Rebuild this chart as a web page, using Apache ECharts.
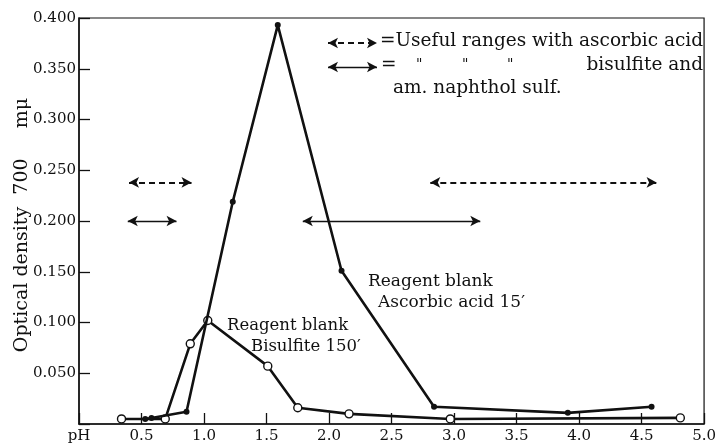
<!DOCTYPE html>
<html><head><meta charset="utf-8">
<script src="https://cdn.jsdelivr.net/npm/echarts@6/dist/echarts.min.js"></script>
<style>html,body{margin:0;padding:0;background:#fff}#c{width:719px;height:444px}</style>
</head><body><div id="c"></div>
<script>
// Reagent blank, ascorbic acid 15' (filled dots)
const ascorbicPH = [0.53, 0.58, 0.86, 1.23, 1.59, 2.10, 2.84, 3.91, 4.58];
const ascorbicOD = [0.005, 0.006, 0.012, 0.219, 0.393, 0.151, 0.017, 0.011, 0.017];
// Reagent blank, bisulfite 150' (open circles)
const bisulfitePH = [0.34, 0.69, 0.89, 1.03, 1.51, 1.75, 2.16, 2.97, 4.81];
const bisulfiteOD = [0.005, 0.005, 0.079, 0.102, 0.057, 0.016, 0.010, 0.005, 0.006];
// Useful pH ranges (arrows)
const ascorbicRanges = [[0.40, 0.90], [2.81, 4.62]];
const ascorbicRangeLevel = 0.238;
const bisulfiteRanges = [[0.39, 0.78], [1.79, 3.21]];
const bisulfiteRangeLevel = 0.200;
// Axis ticks
const xTicks = [0, 0.5, 1.0, 1.5, 2.0, 2.5, 3.0, 3.5, 4.0, 4.5, 5.0];
const yTicks = [0.050, 0.100, 0.150, 0.200, 0.250, 0.300, 0.350, 0.400];

const FONT = 'DejaVu Serif';
const INK = '#111';

const chart = echarts.init(document.getElementById('c'), null, {renderer: 'canvas'});

function rangeLines(ranges, level) {
  return ranges.map(r => [{coord: [r[0], level]}, {coord: [r[1], level]}]);
}

const legendFont = '18.5px "DejaVu Serif"';
const noteFont = '16.5px "DejaVu Serif"';

chart.setOption({
  animation: false,
  backgroundColor: '#fff',
  textStyle: {fontFamily: FONT, color: INK},
  grid: {left: 79, right: 14, top: 18, bottom: 20, show: true, borderColor: INK, borderWidth: 1.2, backgroundColor: 'transparent'},
  xAxis: {
    type: 'value', min: 0, max: 5, interval: 0.5,
    axisLine: {show: true, lineStyle: {color: INK, width: 1.5}},
    axisTick: {show: true, inside: true, length: 11, lineStyle: {color: INK, width: 1.3}},
    splitLine: {show: false},
    axisLabel: {
      margin: 5, fontSize: 15, color: INK, fontFamily: FONT,
      formatter: v => (Math.abs(v) < 1e-9 ? 'pH' : (xTicks.find(t => Math.abs(t - v) < 1e-6) ?? v).toFixed(1))
    }
  },
  yAxis: {
    type: 'value', min: 0, max: 0.4, interval: 0.05,
    axisLine: {show: true, lineStyle: {color: INK, width: 1.5}},
    axisTick: {show: true, inside: true, length: 11, lineStyle: {color: INK, width: 1.3}},
    splitLine: {show: false},
    axisLabel: {
      margin: 3, fontSize: 15, color: INK, fontFamily: FONT,
      formatter: v => {
        const t = yTicks.find(t => Math.abs(t - v) < 1e-6);
        return t === undefined ? '' : t.toFixed(3);
      }
    }
  },
  series: [
    {
      name: 'Bisulfite 150\u2032', type: 'line',
      data: bisulfitePH.map((x, i) => [x, bisulfiteOD[i]]),
      lineStyle: {color: INK, width: 2.6}, symbol: 'circle', symbolSize: 8,
      itemStyle: {color: '#fff', borderColor: INK, borderWidth: 1.4}, z: 3
    },
    {
      name: 'Ascorbic acid 15\u2032', type: 'line',
      data: ascorbicPH.map((x, i) => [x, ascorbicOD[i]]),
      lineStyle: {color: INK, width: 2.6}, symbol: 'circle', symbolSize: 6,
      itemStyle: {color: INK}, z: 4
    },
    {
      name: 'ranges-ascorbic', type: 'line', data: [], silent: true,
      markLine: {
        silent: true, symbol: ['arrow', 'arrow'], symbolSize: [8, 10],
        label: {show: false},
        lineStyle: {color: INK, width: 1.8, type: [6, 4]},
        data: rangeLines(ascorbicRanges, ascorbicRangeLevel).concat([[{x: 328, y: 43}, {x: 377, y: 43}]])
      }
    },
    {
      name: 'ranges-bisulfite', type: 'line', data: [], silent: true,
      markLine: {
        silent: true, symbol: ['arrow', 'arrow'], symbolSize: [8, 10],
        label: {show: false},
        lineStyle: {color: INK, width: 1.4, type: 'solid'},
        data: rangeLines(bisulfiteRanges, bisulfiteRangeLevel).concat([[{x: 328, y: 67}, {x: 377, y: 67}]])
      }
    }
  ],
  graphic: [
    {type: 'text', x: 22, y: 225, rotation: Math.PI / 2,
     style: {text: 'Optical density  700     m\u03bc', font: '19px "DejaVu Serif"', fill: INK, align: 'center', verticalAlign: 'middle'}},
    {type: 'text', left: 380, top: 32, style: {text: '=Useful ranges with ascorbic acid', font: legendFont, fill: INK}},
    {type: 'text', left: 381, top: 56, style: {text: '=', font: legendFont, fill: INK}},
    {type: 'text', left: 416, top: 58, style: {text: '"', font: '14px "DejaVu Serif"', fill: INK}},
    {type: 'text', left: 462, top: 58, style: {text: '"', font: '14px "DejaVu Serif"', fill: INK}},
    {type: 'text', left: 507, top: 58, style: {text: '"', font: '14px "DejaVu Serif"', fill: INK}},
    {type: 'text', right: 16, top: 56, style: {text: 'bisulfite and', font: legendFont, fill: INK}},
    {type: 'text', left: 393, top: 79, style: {text: 'am. naphthol sulf.', font: legendFont, fill: INK}},
    {type: 'text', left: 368, top: 273, style: {text: 'Reagent blank', font: '17px "DejaVu Serif"', fill: INK}},
    {type: 'text', left: 378, top: 294, style: {text: 'Ascorbic acid 15\u2032', font: '17px "DejaVu Serif"', fill: INK}},
    {type: 'text', left: 227, top: 317, style: {text: 'Reagent blank', font: noteFont, fill: INK}},
    {type: 'text', left: 251, top: 338, style: {text: 'Bisulfite 150\u2032', font: noteFont, fill: INK}}
  ]
});
</script></body></html>
